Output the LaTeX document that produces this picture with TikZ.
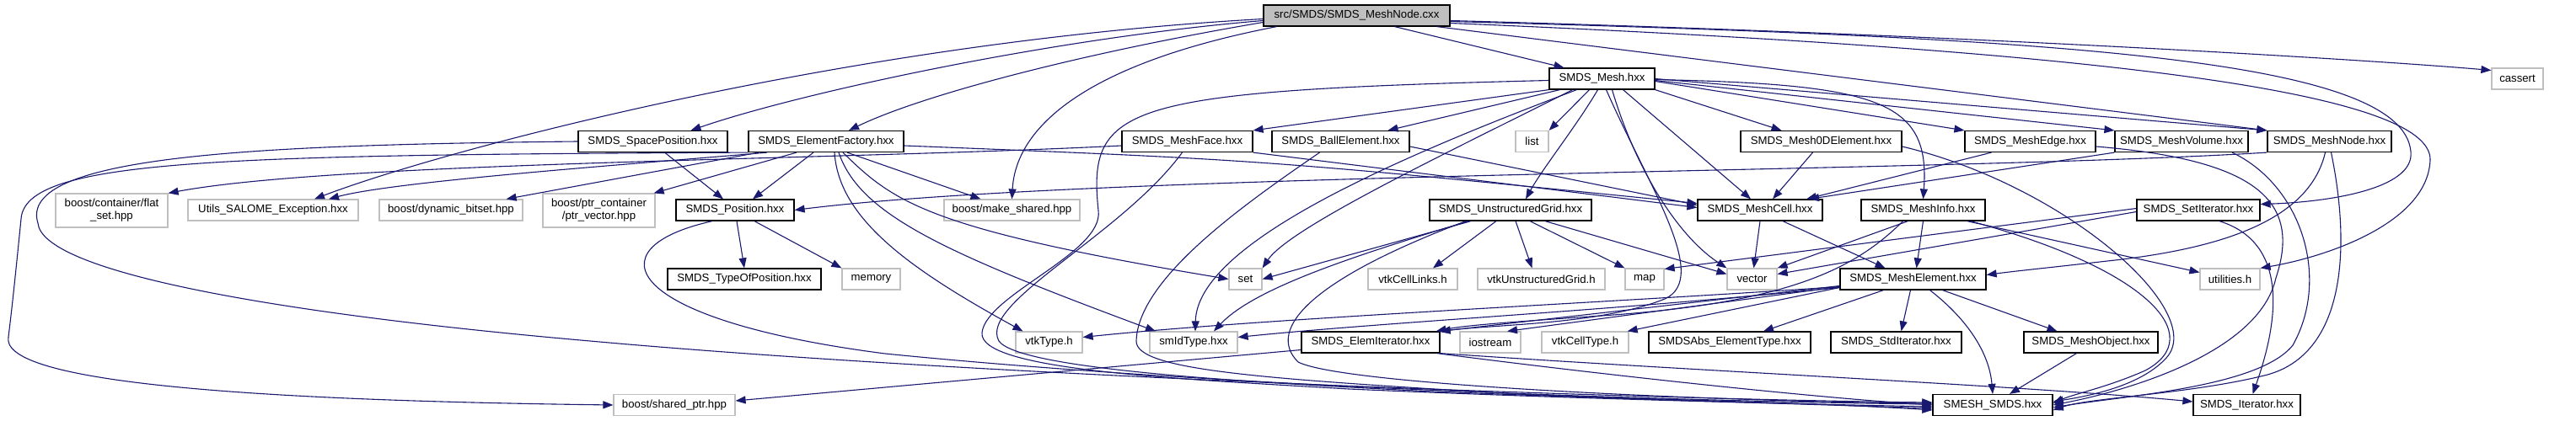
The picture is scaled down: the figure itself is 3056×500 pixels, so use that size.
\documentclass[tikz,border=0pt]{standalone}
\usepackage{fontspec}
\setmainfont{Liberation Sans}
\usetikzlibrary{arrows.meta}
\definecolor{edgeblue}{HTML}{191970}
\definecolor{extgrey}{HTML}{BFBFBF}
\newcommand\dotfont{\fontsize{13.2pt}{15pt}\selectfont}

\begin{document}
\begin{tikzpicture}[x=1pt, y=-1pt,
  hdr/.style={draw=black, line width=1.2pt, fill=white, minimum height=25pt, inner sep=0pt, font=\dotfont},
  ext/.style={hdr, draw=extgrey},
  twoline/.style={align=center, minimum height=40pt},
  dep/.style={draw=edgeblue, line width=1.1pt, -{Triangle[length=12pt, width=9pt]}}]
  \useasboundingbox (0,0) rectangle (3056,500);

  % file nodes, row by row (y grows downwards)
  \node[hdr, fill=extgrey, minimum width=221pt] (root) at (1609.5,18.5) {src/SMDS/SMDS\_MeshNode.cxx};
  \node[hdr, minimum width=125pt] (mesh) at (1900.5,93.5) {SMDS\_Mesh.hxx};
  \node[ext, minimum width=61pt] (cassert) at (2986.5,93.5) {cassert};

  \node[hdr, minimum width=177pt] (spacepos) at (774.5,168) {SMDS\_SpacePosition.hxx};
  \node[hdr, minimum width=184pt] (elemfact) at (980,168) {SMDS\_ElementFactory.hxx};
  \node[hdr, minimum width=155pt] (meshface) at (1408.5,168) {SMDS\_MeshFace.hxx};
  \node[hdr, minimum width=163pt] (ball) at (1590.5,168) {SMDS\_BallElement.hxx};
  \node[ext, minimum width=39pt] (list) at (1817.5,168) {list};
  \node[hdr, minimum width=191pt] (mesh0d) at (2160.5,168) {SMDS\_Mesh0DElement.hxx};
  \node[hdr, minimum width=155pt] (meshedge) at (2408.5,168) {SMDS\_MeshEdge.hxx};
  \node[hdr, minimum width=158pt] (meshvol) at (2588,168) {SMDS\_MeshVolume.hxx};
  \node[hdr, minimum width=147pt] (meshnode) at (2763.5,168) {SMDS\_MeshNode.hxx};

  \node[ext, twoline, minimum width=133pt] (flatset) at (132.5,250) {boost/container/flat\\\_set.hpp};
  \node[ext, minimum width=202pt] (utilsexc) at (324,249.5) {Utils\_SALOME\_Exception.hxx};
  \node[ext, minimum width=170pt] (dynbitset) at (535,249.5) {boost/dynamic\_bitset.hpp};
  \node[ext, twoline, minimum width=133pt] (ptrvec) at (710.5,250) {boost/ptr\_container\\/ptr\_vector.hpp};
  \node[hdr, minimum width=140pt] (position) at (872,249.5) {SMDS\_Position.hxx};
  \node[ext, minimum width=161pt] (makeshared) at (1200.5,249.5) {boost/make\_shared.hpp};
  \node[hdr, minimum width=192pt] (ugrid) at (1792,249.5) {SMDS\_UnstructuredGrid.hxx};
  \node[hdr, minimum width=148pt] (meshcell) at (2088,249.5) {SMDS\_MeshCell.hxx};
  \node[hdr, minimum width=147pt] (meshinfo) at (2281.5,249.5) {SMDS\_MeshInfo.hxx};
  \node[hdr, minimum width=146pt] (setiter) at (2608,249.5) {SMDS\_SetIterator.hxx};

  \node[hdr, minimum width=182pt] (typeofpos) at (883,331.5) {SMDS\_TypeOfPosition.hxx};
  \node[ext, minimum width=69pt] (memory) at (1033.5,331.5) {memory};
  \node[ext, minimum width=39pt] (nset) at (1477.5,331.5) {set};
  \node[ext, minimum width=106pt] (cellinks) at (1676,331.5) {vtkCellLinks.h};
  \node[ext, minimum width=151pt] (vtkug) at (1828.5,331.5) {vtkUnstructuredGrid.h};
  \node[ext, minimum width=46pt] (nmap) at (1951,331.5) {map};
  \node[ext, minimum width=59pt] (nvector) at (2078.5,331.5) {vector};
  \node[hdr, minimum width=173pt] (meshelem) at (2269.5,331.5) {SMDS\_MeshElement.hxx};
  \node[ext, minimum width=71pt] (utilities) at (2645.5,331.5) {utilities.h};

  \node[ext, minimum width=79pt] (vtktype) at (1244.5,406.5) {vtkType.h};
  \node[ext, minimum width=104pt] (smidtype) at (1416,406.5) {smIdType.hxx};
  \node[hdr, minimum width=164pt] (elemiter) at (1626,406.5) {SMDS\_ElemIterator.hxx};
  \node[ext, minimum width=72pt] (iostream) at (1768,406.5) {iostream};
  \node[ext, minimum width=103pt] (celltype) at (1880.5,406.5) {vtkCellType.h};
  \node[hdr, minimum width=192pt] (absetype) at (2052,406.5) {SMDSAbs\_ElementType.hxx};
  \node[hdr, minimum width=155pt] (stditer) at (2249.5,406.5) {SMDS\_StdIterator.hxx};
  \node[hdr, minimum width=159pt] (meshobj) at (2480.5,406.5) {SMDS\_MeshObject.hxx};

  \node[ext, minimum width=144pt] (sharedptr) at (800,481) {boost/shared\_ptr.hpp};
  \node[hdr, minimum width=142pt] (smeshsmds) at (2364,481) {SMESH\_SMDS.hxx};
  \node[hdr, minimum width=127pt] (iterator) at (2665.5,481) {SMDS\_Iterator.hxx};

  % includes of the .cxx
  \draw[dep] ([xshift=45pt]root.south) -- ([xshift=-45pt]mesh.north);
  \draw[dep] ([yshift=-6pt]root.east) .. controls (2300,40) and (2800,70) .. ([yshift=10pt]cassert.west);
  \draw[dep] ([yshift=-7pt]root.east) .. controls (2450,45) and (2850,70) .. (2860,180) .. controls (2865,225) and (2760,240) .. ([yshift=7pt]setiter.east);
  \draw[dep] ([yshift=-9pt]root.east) .. controls (2500,60) and (2885,110) .. (2883,190) .. controls (2880,265) and (2760,305) .. (utilities.north east);
  \draw[dep] ([xshift=95pt]root.south) -- (meshnode.north west);
  \draw[dep] ([yshift=-6pt]root.west) .. controls (1250,45) and (950,110) .. ([xshift=45pt]spacepos.north);
  \draw[dep] ([yshift=-8pt]root.west) .. controls (1300,60) and (1100,110) .. ([xshift=27pt]elemfact.north);
  \draw[dep] ([yshift=-4pt]root.west) .. controls (1000,50) and (520,180) .. ([xshift=49pt]utilsexc.north);
  \draw[dep] ([xshift=-95pt]root.south) .. controls (1290,75) and (1205,150) .. (makeshared.north);

  % SMDS_Mesh.hxx
  \draw[dep] (mesh.south west) -- (meshface.north east);
  \draw[dep] ([xshift=-50pt]mesh.south) -- ([xshift=56pt]ball.north);
  \draw[dep] ([xshift=-15pt]mesh.south) -- (list.north east);
  \draw[dep] ([xshift=-5pt]mesh.south) .. controls (1870,150) and (1830,200) .. ([xshift=18pt]ugrid.north);
  \draw[dep] (mesh.south east) -- ([xshift=-47pt]mesh0d.north);
  \draw[dep] ([yshift=-3pt]mesh.east) -- (meshedge.north west);
  \draw[dep] ([yshift=-2pt]mesh.east) -- (meshvol.north west);
  \draw[dep] (mesh.east) -- (meshnode.north west);
  \draw[dep] ([yshift=-1pt]mesh.east) .. controls (2230,100) and (2290,120) .. (meshinfo.north);
  \draw[dep] ([xshift=25pt]mesh.south) -- ([xshift=-11pt]meshcell.north);
  \draw[dep] ([xshift=12pt]mesh.south) .. controls (1940,200) and (1990,280) .. (nvector.north west);
  \draw[dep] ([xshift=5pt]mesh.south) .. controls (1955,220) and (2030,330) .. (1975,355) .. controls (1900,385) and (1780,385) .. (elemiter.north east);
  \draw[dep] ([xshift=-35pt]mesh.south) .. controls (1720,180) and (1530,270) .. (nset.north east);
  \draw[dep] ([xshift=-30pt]mesh.south) .. controls (1650,190) and (1420,290) .. ([xshift=2pt]smidtype.north);
  \draw[dep] ([yshift=-2pt]mesh.west) .. controls (1330,108) and (1290,125) .. (1303,250) .. controls (1310,300) and (1170,350) .. (1165,395) .. controls (1160,440) and (1400,450) .. (1600,462) .. controls (1900,475) and (2150,480) .. ([yshift=-2pt]smeshsmds.west);

  % SMDS_UnstructuredGrid.hxx
  \draw[dep] ([xshift=-47pt]ugrid.south) -- (nset.east);
  \draw[dep] ([xshift=-17pt]ugrid.south) -- ([xshift=24pt]cellinks.north);
  \draw[dep] ([xshift=6pt]ugrid.south) -- ([xshift=-11pt]vtkug.north);
  \draw[dep] ([xshift=23pt]ugrid.south) -- (nmap.north west);
  \draw[dep] ([xshift=41pt]ugrid.south) -- ([yshift=6pt]nvector.west);
  \draw[dep] ([xshift=-50pt]ugrid.south) .. controls (1620,300) and (1490,340) .. ([xshift=24pt]smidtype.north);
  \draw[dep] ([xshift=-53pt]ugrid.south) .. controls (1560,330) and (1500,390) .. (1540,430) .. controls (1600,460) and (2100,478) .. ([yshift=2pt]smeshsmds.west);

  % cells
  \draw[dep] (meshface.south east) -- ([yshift=3pt]meshcell.west);
  \draw[dep] ([xshift=-6pt]meshface.south) .. controls (1330,280) and (1160,360) .. (1185,405) .. controls (1210,440) and (1500,455) .. (1700,465) .. controls (1950,475) and (2150,480) .. ([yshift=-4pt]smeshsmds.west);
  \draw[dep] ([yshift=-5pt]meshface.west) .. controls (1000,190) and (400,192) .. (flatset.north east);
  \draw[dep] ([yshift=-6pt]ball.east) -- ([yshift=6pt]meshcell.west);
  \draw[dep] ([xshift=-25pt]ball.south) .. controls (1480,240) and (1350,330) .. (1348,405) .. controls (1347,440) and (1500,450) .. (1800,468) .. controls (2000,476) and (2150,478) .. ([yshift=-6pt]smeshsmds.west);
  \draw[dep] ([xshift=-10pt]mesh0d.south) -- ([xshift=15pt]meshcell.north);
  \draw[dep] ([yshift=-6pt]mesh0d.east) .. controls (2450,220) and (2620,370) .. (2570,425) .. controls (2540,458) and (2480,470) .. ([yshift=4pt]smeshsmds.east);
  \draw[dep] ([xshift=-46pt]meshedge.south) -- ([xshift=55pt]meshcell.north);
  \draw[dep] ([yshift=-6pt]meshedge.east) .. controls (2680,190) and (2730,240) .. (2700,330) .. controls (2680,420) and (2520,465) .. (smeshsmds.east);
  \draw[dep] (meshvol.south west) -- ([xshift=58pt]meshcell.north);
  \draw[dep] ([xshift=60pt]meshvol.south) .. controls (2730,220) and (2765,330) .. (2720,410) .. controls (2680,460) and (2520,470) .. ([yshift=-3pt]smeshsmds.east);

  % SMDS_MeshNode.hxx
  \draw[dep] (meshnode.south west) .. controls (2300,205) and (1300,205) .. (position.east);
  \draw[dep] ([xshift=-5pt]meshnode.south) .. controls (2740,260) and (2640,295) .. (2500,310) .. controls (2430,318) and (2390,322) .. ([yshift=5pt]meshelem.east);
  \draw[dep] ([xshift=2pt]meshnode.south) .. controls (2790,300) and (2780,420) .. (2690,445) .. controls (2600,468) and (2480,472) .. ([yshift=-6pt]smeshsmds.east);

  % SMDS_ElementFactory.hxx
  \draw[dep] (elemfact.south west) .. controls (250,184) and (30,190) .. (25,260) .. controls (20,310) and (15,360) .. (10,400) .. controls (0,450) and (250,475) .. (sharedptr.west);
  \draw[dep] ([xshift=-70pt]elemfact.south) .. controls (750,195) and (470,215) .. ([xshift=66pt]utilsexc.north);
  \draw[dep] ([xshift=-80pt]elemfact.south) -- ([xshift=-20pt]dynbitset.north east);
  \draw[dep] ([xshift=-35pt]elemfact.south) -- ([xshift=-2pt]ptrvec.north east);
  \draw[dep] ([xshift=-15pt]elemfact.south) -- ([xshift=21pt]position.north);
  \draw[dep] ([xshift=25pt]elemfact.south) -- ([xshift=-37pt]makeshared.north);
  \draw[dep] ([yshift=-5pt]elemfact.east) .. controls (1500,190) .. ([yshift=8pt]meshcell.west);
  \draw[dep] ([xshift=20pt]elemfact.south) .. controls (1060,240) and (1100,272) .. (nset.west);
  \draw[dep] ([xshift=10pt]elemfact.south) .. controls (995,260) and (1080,320) .. ([xshift=-31pt]vtktype.north);
  \draw[dep] ([xshift=15pt]elemfact.south) .. controls (1020,255) and (1120,300) .. ([xshift=-45pt]smidtype.north);

  % positions
  \draw[dep] ([xshift=14pt]spacepos.south) -- ([xshift=-14pt]position.north);
  \draw[dep] (spacepos.west) .. controls (300,172) and (20,185) .. (45,265) .. controls (50,320) and (300,370) .. (700,405) .. controls (1200,450) and (2000,475) .. ([yshift=3pt]smeshsmds.west);
  \draw[dep] ([xshift=2pt]position.south) -- (typeofpos.north);
  \draw[dep] ([xshift=23pt]position.south) -- (memory.north west);
  \draw[dep] ([xshift=-27pt]position.south) .. controls (700,295) and (740,380) .. (1050,420) .. controls (1500,465) and (2100,478) .. ([yshift=1pt]smeshsmds.west);

  % iterators
  \draw[dep] ([yshift=-9pt]elemiter.west) -- ([yshift=5pt]sharedptr.east);
  \draw[dep] (elemiter.south east) .. controls (2000,440) and (2400,458) .. ([yshift=4pt]iterator.west);
  \draw[dep] ([xshift=-4pt]elemiter.south east) .. controls (1900,445) and (2150,472) .. (smeshsmds.west);
  \draw[dep] ([xshift=25pt]setiter.south) .. controls (2720,290) and (2700,390) .. ([xshift=7pt]iterator.north);
  \draw[dep] ([yshift=2pt]setiter.west) -- ([yshift=12pt]nmap.east);
  \draw[dep] ([yshift=-2pt]setiter.west) -- ([yshift=6pt]nvector.east);

  % SMDS_MeshCell.hxx and SMDS_MeshInfo.hxx
  \draw[dep] (meshcell.south) -- ([xshift=2pt]nvector.north);
  \draw[dep] ([xshift=27pt]meshcell.south) -- ([xshift=-33pt]meshelem.north);
  \draw[dep] ([xshift=-18pt]meshinfo.south) -- (nvector.north east);
  \draw[dep] (meshinfo.south) -- ([xshift=4pt]meshelem.north);
  \draw[dep] ([xshift=-24pt]meshinfo.south) .. controls (2200,320) and (2120,360) .. (1900,375) .. controls (1800,382) and (1740,386) .. ([xshift=-5pt]elemiter.north east);
  \draw[dep] ([xshift=52pt]meshinfo.south) -- ([yshift=8pt]utilities.west);
  \draw[dep] ([xshift=56pt]meshinfo.south) .. controls (2550,320) and (2620,400) .. (2545,440) .. controls (2500,460) and (2460,468) .. ([yshift=2pt]smeshsmds.east);

  % SMDS_MeshElement.hxx
  \draw[dep] ([yshift=-8pt]meshelem.west) -- (elemiter.north east);
  \draw[dep] ([yshift=-9pt]meshelem.west) -- ([xshift=20pt]iostream.north);
  \draw[dep] ([yshift=-10pt]meshelem.west) -- ([xshift=-2pt]celltype.north east);
  \draw[dep] ([xshift=-35pt]meshelem.south) -- ([xshift=40pt]absetype.north);
  \draw[dep] ([xshift=-3pt]meshelem.south) -- ([xshift=6pt]stditer.north);
  \draw[dep] ([xshift=35pt]meshelem.south) -- ([xshift=-40pt]meshobj.north);
  \draw[dep] ([xshift=20pt]meshelem.south) .. controls (2335,380) and (2360,420) .. (smeshsmds.north);
  \draw[dep] ([yshift=-9pt]meshelem.west) .. controls (1900,360) and (1500,378) .. ([yshift=6pt]vtktype.east);
  \draw[dep] ([yshift=-10pt]meshelem.west) .. controls (1900,370) and (1650,382) .. ([yshift=6pt]smidtype.east);
  \draw[dep] ([xshift=-17pt]meshobj.south) -- ([xshift=20pt]smeshsmds.north);
\end{tikzpicture}
\end{document}
